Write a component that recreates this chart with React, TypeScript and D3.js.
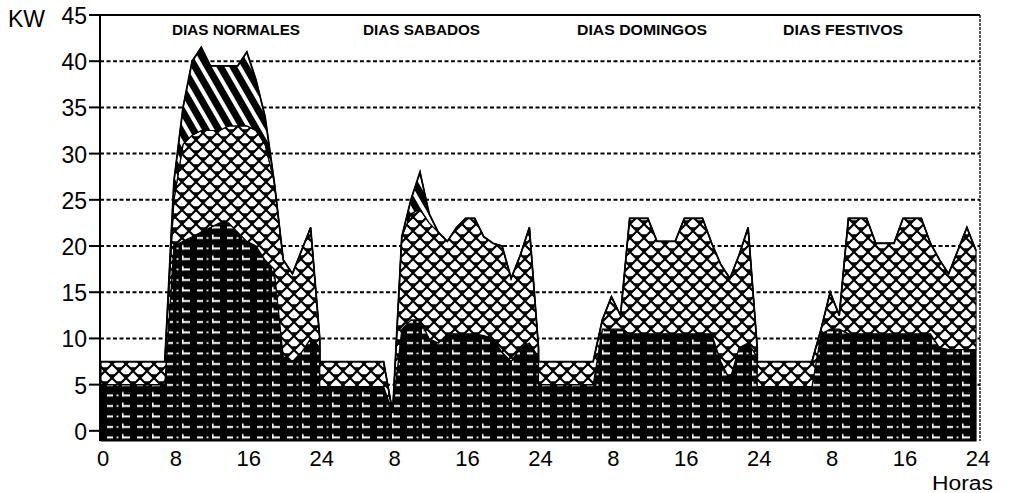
import React from 'react';
import * as d3 from 'd3';

const dayTitles = ['DIAS NORMALES', 'DIAS SABADOS', 'DIAS DOMINGOS', 'DIAS FESTIVOS'];
const dayTitleX = [172, 363, 577, 783];
const dayTitleW = [128, 117, 130, 120];
const hourTicks = [0, 8, 16, 24, 32, 40, 48, 56, 64, 72, 80, 88, 96];
const hourTickLabels = ['0', '8', '16', '24', '8', '16', '24', '8', '16', '24', '8', '16', '24'];
const kwTicks = [0, 5, 10, 15, 20, 25, 30, 35, 40, 45];

// hourly layer values (hour 0..24) per day type
const baseNormales = [5, 5, 5, 5, 5, 5, 5, 5, 20, 20.5, 21, 21.5, 22, 22.5, 22.5, 21.5, 20.5, 20, 18.5, 17.5, 8, 7.5, 8.5, 10, 9];
const midNormales = [2.5, 2.5, 2.5, 2.5, 2.5, 2.5, 2.5, 2.5, 5, 10.5, 11, 11, 10.5, 10, 10.5, 11.5, 12.5, 12.5, 12.5, 9.5, 10.5, 9.5, 11, 12, 1];
const peakNormales = [0, 0, 0, 0, 0, 0, 0, 0, 2, 4, 8, 9, 7, 7, 6.5, 6.5, 8, 5.5, 3, 0, 0, 0, 0, 0, 0];

const baseSabados = [4.8, 4.8, 4.8, 4.8, 4.8, 4.8, 4.8, 4.8, 2, 11, 12, 12, 10, 9.5, 10.5, 10.5, 10.5, 10.5, 10.3, 10, 8.5, 7.5, 9, 9.5, 8];
const midSabados = [2.7, 2.7, 2.7, 2.7, 2.7, 2.7, 2.7, 2.7, 0, 10, 11.5, 12, 12.5, 12, 10, 11.5, 12.5, 12.5, 10.7, 10.3, 11.5, 9, 10, 12.5, 1];
const peakSabados = [0, 0, 0, 0, 0, 0, 0, 0, 0, 0, 1.5, 4, 1, 0, 0, 0, 0, 0, 0, 0, 0, 0, 0, 0, 0];

const baseDomingos = [5, 5, 5, 5, 5, 5, 5, 11, 11, 11, 10.5, 10.5, 10.5, 10.5, 10.5, 10.5, 10.5, 10.5, 10.5, 10.5, 7.5, 5.5, 9, 9.5, 8];
const midDomingos = [2.5, 2.5, 2.5, 2.5, 2.5, 2.5, 2.5, 1, 3.5, 1.5, 12.5, 12.5, 12.5, 10, 10, 10, 12.5, 12.5, 12.5, 9.8, 10.5, 11, 10, 12.5, 1];
const peakDomingos = [0, 0, 0, 0, 0, 0, 0, 0, 0, 0, 0, 0, 0, 0, 0, 0, 0, 0, 0, 0, 0, 0, 0, 0, 0];

const baseFestivos = [4.8, 4.8, 4.8, 4.8, 4.8, 4.8, 4.8, 10.5, 11, 11, 10.5, 10.5, 10.5, 10.5, 10.5, 10.5, 10.5, 10.5, 10.5, 10.5, 9, 8.8, 8.8, 8.8, 8.8];
const midFestivos = [2.7, 2.7, 2.7, 2.7, 2.7, 2.7, 2.7, 0.5, 4, 1.5, 12.5, 12.5, 12.5, 9.8, 9.8, 9.8, 12.5, 12.5, 12.5, 9.8, 9.5, 8.2, 10.7, 13.2, 10.7];
const peakFestivos = [0, 0, 0, 0, 0, 0, 0, 0, 0, 0, 0, 0, 0, 0, 0, 0, 0, 0, 0, 0, 0, 0, 0, 0, 0];

const days = [
  { base: baseNormales, mid: midNormales, peak: peakNormales },
  { base: baseSabados, mid: midSabados, peak: peakSabados },
  { base: baseDomingos, mid: midDomingos, peak: peakDomingos },
  { base: baseFestivos, mid: midFestivos, peak: peakFestivos },
];

type Row = { hour: number; base: number; mid: number; peak: number };
const rows: Row[] = days.flatMap((d, di) =>
  d.base.map((_, i) => ({ hour: di * 24 + i, base: d.base[i], mid: d.mid[i], peak: d.peak[i] }))
);

const W = 1013;
const H = 493;
const LEFT = 100;
const RIGHT = 980;
const TOP = 15;
const BOTTOM = 441;
const FONT = "'Liberation Sans', Arial, Helvetica, sans-serif";

export default function App() {
  const x = d3.scaleLinear().domain([0, 96]).range([101, 976]);
  const y = d3.scaleLinear().domain([-1.1, 45]).range([BOTTOM, TOP]);
  const keys = ['base', 'mid', 'peak'];
  const series = d3.stack<Row>().keys(keys)(rows);
  const fills = ['url(#pBase)', 'url(#pMid)', 'url(#pTop)'];

  const mkArea = (li: number) =>
    d3
      .area<d3.SeriesPoint<Row>>()
      .x((d) => x(d.data.hour))
      .y0((d) => (li === 0 ? BOTTOM : y(d[0])))
      .y1((d) => y(d[1]))
      .curve(d3.curveLinear);

  const topLine = d3
    .line<Row>()
    .x((d) => x(d.hour))
    .y((d) => y(d.base + d.mid + d.peak));

  return (
    <svg width={W} height={H} style={{ position: 'absolute', left: 0, top: 0, background: '#fff' }}>
      <defs>
        <pattern id="pBase" width="30" height="10.5" patternUnits="userSpaceOnUse" y="2">
          <rect width="30" height="10.5" fill="#000" />
          <rect x="2" y="4" width="8" height="2" fill="#fff" />
          <rect x="2" y="1.5" width="1.6" height="4.5" fill="#fff" />
          <rect x="17" y="4" width="6" height="2" fill="#fff" />
          <rect x="26.5" y="4.2" width="2" height="1.6" fill="#fff" />
        </pattern>
        <pattern id="pMid" width="14" height="14" patternUnits="userSpaceOnUse">
          <rect width="14" height="14" fill="#fff" />
          <path d="M0,0L14,14M14,0L0,14" stroke="#000" strokeWidth="2.2" />
          <path d="M3.5,3.2h7l-3.5,4z" fill="#000" />
          <path d="M-3.5,10.2h7l-3.5,4z M10.5,10.2h7l-3.5,4z" fill="#000" />
        </pattern>
        <pattern id="pTop" width="11" height="11" patternUnits="userSpaceOnUse" patternTransform="rotate(-30)">
          <rect width="11" height="11" fill="#fff" />
          <rect width="7" height="11" fill="#000" />
        </pattern>
      </defs>

      {/* gridlines */}
      {kwTicks
        .filter((v) => v > 0 && v < 45)
        .map((v) => (
          <line key={'g' + v} x1={LEFT} x2={RIGHT} y1={y(v)} y2={y(v)} stroke="#000" strokeWidth={2} strokeDasharray="4,2.5" />
        ))}

      {/* stacked areas */}
      {series.map((s, li) => (
        <path key={'a' + li} d={mkArea(li)(s) || ''} fill={fills[li]} stroke="#000" strokeWidth={1.2} />
      ))}
      <path d={topLine(rows) || ''} fill="none" stroke="#000" strokeWidth={1.8} />

      {/* frame */}
      <line x1={89} x2={RIGHT} y1={TOP} y2={TOP} stroke="#000" strokeWidth={2} />
      <line x1={RIGHT} x2={RIGHT} y1={TOP} y2={BOTTOM} stroke="#000" strokeWidth={1.3} strokeDasharray="3,1" />
      <line x1={LEFT} x2={LEFT} y1={TOP} y2={BOTTOM} stroke="#000" strokeWidth={2} />

      {/* y axis ticks and labels */}
      {kwTicks.map((v) => (
        <g key={'y' + v}>
          <line x1={89} x2={LEFT} y1={y(v)} y2={y(v)} stroke="#000" strokeWidth={2} />
          <text x={87} y={y(v) + 9} textAnchor="end" fontFamily={FONT} fontSize={23} fill="#000">
            {v}
          </text>
        </g>
      ))}
      <text x={8} y={27} fontFamily={FONT} fontSize={23} fill="#000">
        KW
      </text>

      {/* x axis labels */}
      {hourTicks.map((h, i) => (
        <text key={'x' + i} x={x(h) + 2} y={466} textAnchor="middle" fontFamily={FONT} fontSize={22} fill="#000">
          {hourTickLabels[i]}
        </text>
      ))}
      <text x={932} y={490} fontFamily={FONT} fontSize={20} fill="#000" textLength={61} lengthAdjust="spacingAndGlyphs">
        Horas
      </text>

      {/* day titles */}
      {dayTitles.map((t, i) => (
        <text
          key={'t' + i}
          x={dayTitleX[i]}
          y={35}
          fontFamily={FONT}
          fontSize={14}
          fontWeight="bold"
          textLength={dayTitleW[i]}
          lengthAdjust="spacingAndGlyphs"
          fill="#000"
        >
          {t}
        </text>
      ))}
    </svg>
  );
}
